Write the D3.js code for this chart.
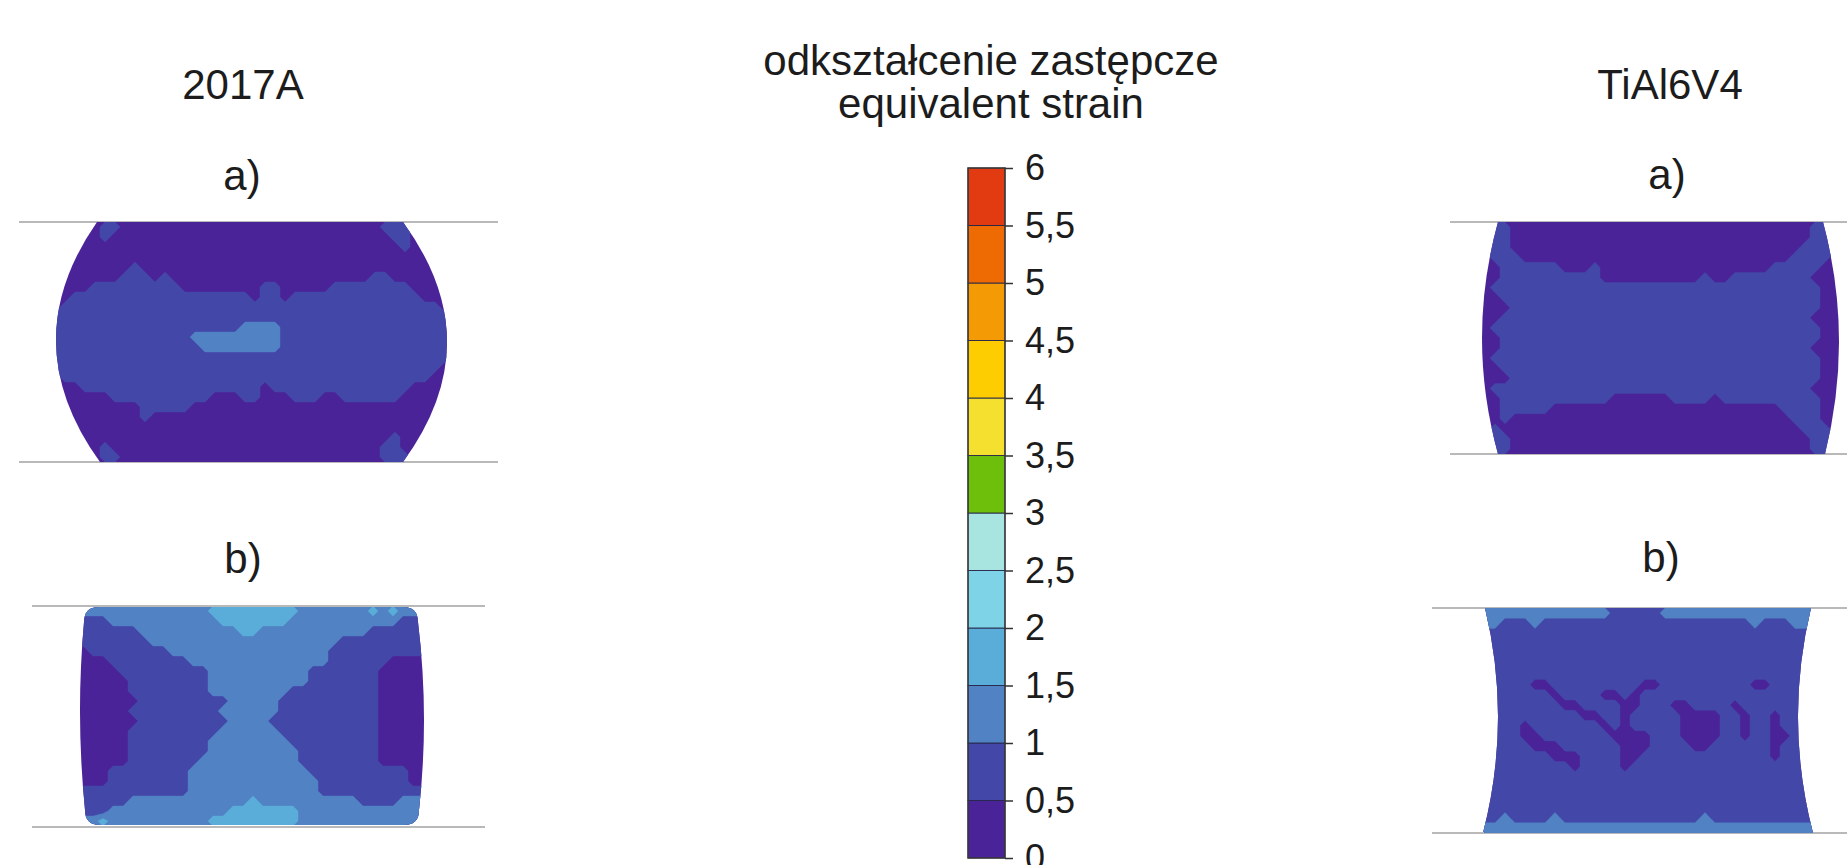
<!DOCTYPE html>
<html lang="pl">
<head>
<meta charset="utf-8">
<title>odkształcenie zastępcze / equivalent strain</title>
<script src="https://cdn.jsdelivr.net/npm/d3@7/dist/d3.min.js"></script>
<style>
  html, body { margin: 0; padding: 0; background: #ffffff; }
  svg { display: block; font-family: "Liberation Sans", Arial, Helvetica, sans-serif; }
</style>
</head>
<body>
<svg id="chart" width="1847" height="865"></svg>
<script>
// ---------------------------------------------------------------- data
const strainTicks = [0, 0.5, 1, 1.5, 2, 2.5, 3, 3.5, 4, 4.5, 5, 5.5, 6];
const strainTickLabels = ["0", "0,5", "1", "1,5", "2", "2,5", "3", "3,5", "4", "4,5", "5", "5,5", "6"];
const materials = ["2017A", "TiAl6V4"];
const cases = ["a)", "b)"];

// Strain maps of the specimen cross-sections, one string per mesh row.
// Every character is one cell and gives the index of its 0.5-wide strain
// band (0 = 0-0,5; 1 = 0,5-1; 2 = 1-1,5; 3 = 1,5-2 ...).
const strain2017A_a = [
  "0000011000 0000000000 0000000000 0001110000",
  "0000010000 0000000000 0000000000 0000110000",
  "0000000000 0000000000 0000000000 0000010000",
  "0000000000 0000000000 0000000000 0000000000",
  "0000000010 0000000000 0000000000 0000000000",
  "0000000111 0100000000 0000000000 0011000000",
  "0000111111 1110000000 0110000011 1111110000",
  "0011111111 1111111111 0110111111 1111111000",
  "0111111111 1111111111 1111111111 1111111110",
  "1111111111 1111111111 1111111111 1111111111",
  "1111111111 1111111112 2221111111 1111111111",
  "1111111111 1111222222 2221111111 1111111111",
  "1111111111 1111122222 2221111111 1111111111",
  "1111111111 1111111111 1111111111 1111111111",
  "1111111111 1111111111 1111111111 1111111110",
  "0111111111 1111111111 1111111111 1111111100",
  "0001111111 1111111111 1011111111 1111110000",
  "0000001111 1111110001 1000111001 1111100000",
  "0000000001 1111000000 0000000000 0000000000",
  "0000000001 0000000000 0000000000 0000000000",
  "0000000000 0000000000 0000000000 0000000000",
  "0000000000 0000000000 0000000000 0000100000",
  "0000010000 0000000000 0000000000 0001100000",
  "0000011000 0000000000 0000000000 0001110000"
];

const strain2017A_b = [
  "2222222222 2223333333 3322222223 23222",
  "1112222222 2222333333 3222222222 22111",
  "1111112222 2222223322 2222222221 11111",
  "1111111222 2222222222 2222221111 11111",
  "0111111112 2222222222 2222211111 11111",
  "0001111111 1222222222 2222211111 10000",
  "0000111111 1112222222 2221111111 00000",
  "0000011111 1112222222 2221111111 00000",
  "0000011111 1112222222 2111111111 00000",
  "0000001111 1111122222 1111111111 00000",
  "0000011111 1111222222 1111111111 00000",
  "0000001111 1111122221 1111111111 00000",
  "0000011111 1111222222 1111111111 00000",
  "0000011111 1112222222 2111111111 00000",
  "0000011111 1112222222 2211111111 00000",
  "0000011111 1122222222 2211111111 00000",
  "0001111111 1222222222 2221111111 11100",
  "0001111111 1222222222 2222111111 11100",
  "1111111111 1222222222 2222111111 11111",
  "1111122222 2222222322 2222222211 11222",
  "1112222222 2222233333 3322222222 22222",
  "2232222222 2223333333 3322222222 22222"
];

const strainTiAl6V4_a = [
  "1110000000 0000000000 0000000000 000111",
  "1110000000 0000000000 0000000000 000111",
  "1110000000 0000000000 0000000000 001111",
  "0111000000 0000000000 0000000000 011110",
  "0011111100 0100000000 0000000001 111100",
  "0011111111 1100000000 0010011111 111000",
  "0111111111 1111111111 1111111111 111100",
  "0011111111 1111111111 1111111111 111100",
  "0001111111 1111111111 1111111111 111100",
  "0011111111 1111111111 1111111111 111000",
  "0111111111 1111111111 1111111111 111100",
  "0011111111 1111111111 1111111111 111100",
  "0011111111 1111111111 1111111111 111000",
  "0111111111 1111111111 1111111111 111100",
  "0011111111 1111111111 1111111111 111100",
  "0001111111 1111111111 1111111111 111100",
  "0111111111 1111111111 1111111111 111000",
  "0011111111 1110000001 1110111111 111100",
  "0011111000 0000000000 0000000000 111100",
  "0010000000 0000000000 0000000000 011100",
  "0100000000 0000000000 0000000000 001110",
  "1110000000 0000000000 0000000000 000111",
  "1110000000 0000000000 0000000000 000111"
];

const strainTiAl6V4_b = [
  "2222222222 2221111122 2222222222 2222",
  "2211121111 1111111111 1111111211 1222",
  "1111111111 1111111111 1111111111 1111",
  "1111111111 1111111111 1111111111 1111",
  "1111111111 1111111111 1111111111 1111",
  "1111111111 1111111111 1111111111 1111",
  "1111111111 1111111111 1111111111 1111",
  "1111100111 1111110011 1111111001 1111",
  "1111111011 1100101111 1111111111 1111",
  "1111111100 1111001110 0111101111 1111",
  "1111111111 0011011111 0000110110 1111",
  "1111011111 1101011111 0000110110 1111",
  "1111001111 1110000111 0000110110 0111",
  "1111100011 1111000111 1001111110 1111",
  "1111111000 1111001111 1111111110 1111",
  "1111111110 1111011111 1111111111 1111",
  "1111111111 1111111111 1111111111 1111",
  "1111111111 1111111111 1111111111 1111",
  "1111111111 1111111111 1111111111 1111",
  "1111111111 1111111111 1111111111 1111",
  "1121111211 1111111111 1121111111 1111",
  "2222222222 2222222222 2222222222 2222"
];

// ---------------------------------------------------------------- style
const bandColors = [
  "#4b2398", "#4348a8", "#5082c4", "#5aacd9", "#7fd3e6", "#a8e4e0",
  "#6ebf0c", "#f6e02f", "#fdcd02", "#f39a05", "#ee6a03", "#e23b12"
];
const textColor = "#1c1c1c";
const platenColor = "#b9b9b9";

// ---------------------------------------------------------------- layout
// box: pixel extent of the mesh grid; shape: specimen outline in grid cells
// (top/bottom rows, left/right edge at top, bottom and mid-height, corner radius)
const panels = [
  { material: 0, caseIdx: 0, map: strain2017A_a,
    box: [50, 222, 450, 462], platen: [19, 498, 222, 462], label: [242, 190],
    shape: { top: 0, bottom: 24, tl: 4.7, tr: 35.3, bl: 5.0, br: 35.3, ml: 0.6, mr: 39.7, r: 0 } },
  { material: 0, caseIdx: 1, map: strain2017A_b,
    box: [78, 606, 428, 826], platen: [32, 485, 606, 827], label: [243, 573],
    shape: { top: 0.1, bottom: 21.9, tl: 0.6, tr: 34.0, bl: 0.7, br: 34.1, ml: 0.2, mr: 34.6, r: 1.5 } },
  { material: 1, caseIdx: 0, map: strainTiAl6V4_a,
    box: [1480, 222, 1840, 454], platen: [1450, 1847, 222, 454], label: [1667, 189],
    shape: { top: 0, bottom: 23, tl: 1.8, tr: 34.3, bl: 1.8, br: 34.5, ml: 0.2, mr: 35.9, r: 0 } },
  { material: 1, caseIdx: 1, map: strainTiAl6V4_b,
    box: [1480, 608, 1820, 833], platen: [1432, 1847, 608, 833], label: [1661, 572],
    shape: { top: 0, bottom: 22, tl: 0.5, tr: 33.1, bl: 0.3, br: 33.3, ml: 1.8, mr: 31.8, r: 0 } }
];
const materialTitlePos = [[243, 99], [1670, 99]];

const svg = d3.select("#chart");
const defs = svg.append("defs");

// Specimen outline: straight platen faces, sides as quadratic bulges
function outlinePath(o, X, Y) {
  const r = o.r || 0;
  const p = d3.path();
  p.moveTo(X(o.tl + r), Y(o.top));
  p.lineTo(X(o.tr - r), Y(o.top));
  if (r) p.quadraticCurveTo(X(o.tr), Y(o.top), X(o.tr), Y(o.top + r));
  let ax = o.tr, ay = o.top + r, bx = o.br, by = o.bottom - r;
  p.quadraticCurveTo(X(2 * o.mr - (ax + bx) / 2), Y((ay + by) / 2), X(bx), Y(by));
  if (r) p.quadraticCurveTo(X(o.br), Y(o.bottom), X(o.br - r), Y(o.bottom));
  p.lineTo(X(o.bl + r), Y(o.bottom));
  if (r) p.quadraticCurveTo(X(o.bl), Y(o.bottom), X(o.bl), Y(o.bottom - r));
  ax = o.bl; ay = o.bottom - r; bx = o.tl; by = o.top + r;
  p.quadraticCurveTo(X(2 * o.ml - (ax + bx) / 2), Y((ay + by) / 2), X(bx), Y(by));
  if (r) p.quadraticCurveTo(X(o.tl), Y(o.top), X(o.tl + r), Y(o.top));
  p.closePath();
  return p.toString();
}

const bandThresholds = strainTicks.slice(0, -1);

panels.forEach((p, i) => {
  const rows = p.map.map(r => r.replace(/\s+/g, ""));
  const nx = rows[0].length, ny = rows.length;
  const values = [];
  rows.forEach(r => {
    const row = r.padEnd(nx, r[r.length - 1]).slice(0, nx);
    for (const ch of row) values.push(strainTicks[+ch] + 0.25);
  });

  const xs = d3.scaleLinear().domain([0, nx]).range([p.box[0], p.box[2]]);
  const ys = d3.scaleLinear().domain([0, ny]).range([p.box[1], p.box[3]]);
  const gridPath = d3.geoPath(d3.geoTransform({
    point(x, y) { this.stream.point(xs(x), ys(y)); }
  }));

  const g = svg.append("g").attr("class", "specimen");

  // compression platens
  g.selectAll("line.platen")
    .data([p.platen[2], p.platen[3]])
    .join("line")
    .attr("class", "platen")
    .attr("x1", p.platen[0]).attr("x2", p.platen[1])
    .attr("y1", d => d).attr("y2", d => d)
    .attr("stroke", platenColor)
    .attr("stroke-width", 2);

  const clipId = "specimen-clip-" + i;
  defs.append("clipPath").attr("id", clipId)
    .append("path").attr("d", outlinePath(p.shape, xs, ys));

  const bands = d3.contours().size([nx, ny]).thresholds(bandThresholds)(values);
  g.append("g")
    .attr("clip-path", `url(#${clipId})`)
    .selectAll("path")
    .data(bands)
    .join("path")
    .attr("d", gridPath)
    .attr("fill", d => bandColors[bandThresholds.indexOf(d.value)])
    .attr("stroke", d => bandColors[bandThresholds.indexOf(d.value)])
    .attr("stroke-width", 0.4);

  svg.append("text")
    .attr("x", p.label[0]).attr("y", p.label[1])
    .attr("text-anchor", "middle")
    .attr("font-size", 42)
    .attr("fill", textColor)
    .text(cases[p.caseIdx]);
});

// material headers
svg.selectAll("text.material")
  .data(materials)
  .join("text")
  .attr("class", "material")
  .attr("x", (d, i) => materialTitlePos[i][0])
  .attr("y", (d, i) => materialTitlePos[i][1])
  .attr("text-anchor", "middle")
  .attr("font-size", 42)
  .attr("fill", textColor)
  .text(d => d);

// colour-scale title
svg.append("text")
  .attr("x", 991).attr("y", 75)
  .attr("text-anchor", "middle")
  .attr("font-size", 42)
  .attr("fill", textColor)
  .text("odkształcenie zastępcze");
svg.append("text")
  .attr("x", 991).attr("y", 118)
  .attr("text-anchor", "middle")
  .attr("font-size", 42)
  .attr("fill", textColor)
  .text("equivalent strain");

// ---------------------------------------------------------------- colour bar
const barX = 968, barW = 37;
const yBar = d3.scaleLinear().domain([0, 6]).range([858, 168]);
const bar = svg.append("g").attr("class", "colorbar");

bar.selectAll("rect.band")
  .data(d3.pairs(strainTicks))
  .join("rect")
  .attr("class", "band")
  .attr("x", barX)
  .attr("width", barW)
  .attr("y", d => yBar(d[1]))
  .attr("height", d => yBar(d[0]) - yBar(d[1]))
  .attr("fill", (d, i) => bandColors[i])
  .attr("stroke", "#26264a")
  .attr("stroke-width", 0.9);

bar.append("rect")
  .attr("x", barX).attr("y", yBar(6))
  .attr("width", barW).attr("height", yBar(0) - yBar(6))
  .attr("fill", "none")
  .attr("stroke", "#3a3a3a")
  .attr("stroke-width", 1.4);

const axis = d3.axisRight(yBar)
  .tickValues(strainTicks)
  .tickFormat((d, i) => strainTickLabels[i])
  .tickSize(8)
  .tickPadding(12);

const axisG = bar.append("g")
  .attr("transform", `translate(${barX + barW},0)`)
  .call(axis);
axisG.select(".domain").remove();
axisG.selectAll(".tick line").attr("stroke", "#333").attr("stroke-width", 1.5);
axisG.selectAll(".tick text")
  .attr("fill", textColor)
  .attr("font-size", 36)
  .attr("font-family", "'Liberation Sans', Arial, Helvetica, sans-serif");
</script>
</body>
</html>
